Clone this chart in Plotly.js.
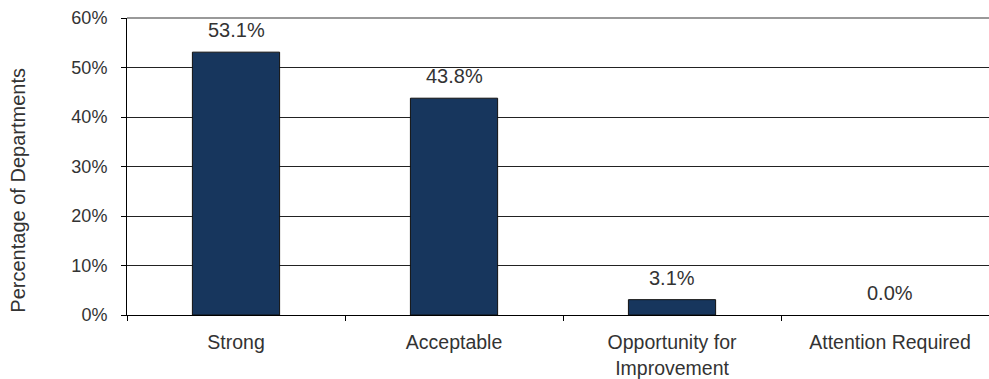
<!DOCTYPE html>
<html>
<head>
<meta charset="utf-8">
<script src="https://cdn.plot.ly/plotly-3.0.1.min.js"></script>
<style>html,body{margin:0;padding:0;background:#fff;}#chart{width:989px;height:379px;}</style>
</head>
<body>
<div id="chart"></div>
<script>
const categories = ["Strong", "Acceptable", "Opportunity for<br>Improvement", "Attention Required"];
const values = [0.531, 0.438, 0.031, 0.0];
const labels = ["53.1%", "43.8%", "3.1%", "0.0%"];
const yTickVals = [0, 0.1, 0.2, 0.3, 0.4, 0.5, 0.6];
const yTickText = ["0%", "10%", "20%", "30%", "40%", "50%", "60%"];
const yTitle = "Percentage of Departments";

const fam = "Liberation Sans, Arial, sans-serif";
const txt = "#333";

const trace = {
  type: "bar",
  x: categories,
  y: values,
  width: 0.4,
  marker: {color: "#17365D", line: {color: "#111", width: values.map(v => v > 0 ? 1 : 0)}},
  hoverinfo: "none"
};

const annotations = categories.map((c, i) => ({
  x: c, y: values[i], xref: "x", yref: "y",
  text: labels[i], showarrow: false, yshift: 22,
  font: {family: fam, size: 20, color: txt}
}));
annotations.push({
  xref: "paper", yref: "paper", x: -0.126, y: 0.42,
  xanchor: "center", yanchor: "middle", textangle: -90,
  text: yTitle, showarrow: false,
  font: {family: fam, size: 20, color: txt}
});

const layout = {
  width: 989, height: 379,
  margin: {l: 127, r: 0, t: 18, b: 64},
  paper_bgcolor: "#fff", plot_bgcolor: "#fff",
  font: {family: fam, size: 18, color: txt},
  showlegend: false,
  xaxis: {
    type: "category",
    range: [-0.5, 3.454],
    tickson: "boundaries",
    ticks: "outside", ticklen: 5, tickcolor: "#000",
    showline: true, linecolor: "#000", linewidth: 1,
    showgrid: false, zeroline: false,
    ticklabelstandoff: 10,
    tickfont: {family: fam, size: 19.5, color: txt},
    fixedrange: true
  },
  yaxis: {
    range: [0, 0.6],
    tickvals: yTickVals, ticktext: yTickText,
    ticks: "outside", ticklen: 5, tickcolor: "#000",
    showline: true, linecolor: "#000", linewidth: 1,
    showgrid: true, gridcolor: "#222", gridwidth: 1,
    zeroline: false,
    ticklabelstandoff: 10,
    tickfont: {family: fam, size: 18, color: txt},
    fixedrange: true
  },
  shapes: [{type: "line", xref: "paper", yref: "paper", x0: 0, x1: 1, y0: 1, y1: 1, line: {color: "#999", width: 2}, layer: "above"}],
  annotations: annotations,
  bargap: 0.6
};

Plotly.newPlot("chart", [trace], layout, {displayModeBar: false, staticPlot: true});
</script>
</body>
</html>
